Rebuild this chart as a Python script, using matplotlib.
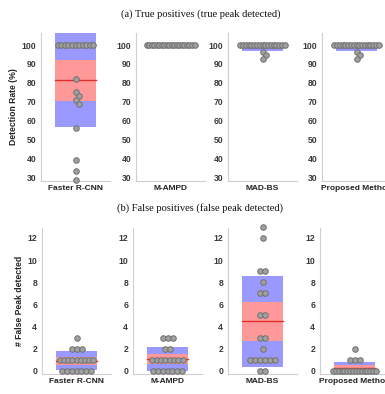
import numpy as np
import matplotlib
matplotlib.use("Agg")
import matplotlib.pyplot as plt

methods = ["Faster R-CNN", "M-AMPD", "MAD-BS", "Proposed Method"]

# Detection rate (%) per record
tp_faster = [100] * 11 + [82, 75, 73, 71, 69, 56, 39, 33, 28.5]
tp_mampd = [100] * 20
tp_madbs = [100] * 17 + [96.5, 94.5, 92.5]
tp_proposed = [100] * 17 + [96.5, 94.5, 92.5]

# False peaks detected per record
fp_faster = [0] * 7 + [1] * 9 + [2] * 3 + [3]
fp_mampd = [0] * 7 + [1] * 8 + [2] * 2 + [3] * 3
fp_madbs = [0] * 2 + [1] * 6 + [2] + [3] * 2 + [5] * 2 + [7] * 2 + [8] + [9] * 2 + [12, 13]
fp_proposed = [0] * 16 + [1] * 3 + [2]

tp_data = [tp_faster, tp_mampd, tp_madbs, tp_proposed]
fp_data = [fp_faster, fp_mampd, fp_madbs, fp_proposed]

tp_ticks = [30, 40, 50, 60, 70, 80, 90, 100]
fp_ticks = [0, 2, 4, 6, 8, 10, 12]

W_PX, H_PX, DPI = 385, 394, 100
SD_COLOR = (0.60, 0.60, 1.00)
CI_COLOR = (1.00, 0.60, 0.60)
MEAN_COLOR = (0.88, 0.18, 0.18)
SPINE = "#cfcfcf"
TICKTXT = "#3a3a3a"

fig = plt.figure(figsize=(W_PX / DPI, H_PX / DPI), dpi=DPI)
plt.rcParams["font.family"] = ["Liberation Sans", "DejaVu Sans"]


def spread_offsets(values, ax_w_px, px_per_unit, max_w=48.0, step=5.0, hit=4.5):
    """Beeswarm-like horizontal offsets (data units) for one category."""
    vals = np.asarray(values, dtype=float)
    xs = np.zeros_like(vals)
    placed = []  # (x_px, y_px)
    uniq, counts = np.unique(vals, return_counts=True)
    order = np.argsort(-counts)
    # rows of tied values first
    for i in order:
        v, k = uniq[i], counts[i]
        idx = np.where(vals == v)[0]
        if k == 1:
            continue
        width = min((k - 1) * step, max_w * np.sqrt(k / 20.0))
        offs = np.linspace(-width / 2, width / 2, k)
        for j, o in zip(idx, offs):
            xs[j] = o
            placed.append((o, v * px_per_unit))
    # single values: nearest free slot to the centre
    singles = [i for i in order if counts[i] == 1]
    for i in sorted(singles, key=lambda i: -uniq[i]):
        v = uniq[i]
        y = v * px_per_unit
        j = np.where(vals == v)[0][0]
        cand = [0.0]
        for m in range(1, 12):
            cand += [m * 1.2, -m * 1.2]
        for c in cand:
            if all(np.hypot(c - px, y - py) >= hit for px, py in placed):
                break
        xs[j] = c
        placed.append((c, y))
    return 1.0 + xs / ax_w_px


def panel(ax, values, ylim, ticks, ax_w_px, ax_h_px):
    vals = np.asarray(values, dtype=float)
    mu = vals.mean()
    sd = vals.std(ddof=1)
    ci = 1.96 * sd / np.sqrt(len(vals))
    hw = 0.297
    ax.fill_between([1 - hw, 1 + hw], mu - sd, mu + sd, color=SD_COLOR, lw=0, zorder=1)
    ax.fill_between([1 - hw, 1 + hw], mu - ci, mu + ci, color=CI_COLOR, lw=0, zorder=2)
    ax.plot([1 - hw, 1 + hw], [mu, mu], color=MEAN_COLOR, lw=1.0, zorder=3)
    px_per_unit = ax_h_px / (ylim[1] - ylim[0])
    xs = spread_offsets(vals, ax_w_px, px_per_unit)
    ax.plot(xs, vals, "o", ms=4.0, mfc="#a0a0a0", mec="#707070", mew=0.7,
            zorder=4, clip_on=False)
    ax.set_xlim(0.5, 1.5)
    ax.set_ylim(*ylim)
    ax.set_yticks(ticks)
    ax.set_xticks([])
    for s in ("top", "right"):
        ax.spines[s].set_visible(False)
    for s in ("left", "bottom"):
        ax.spines[s].set_color(SPINE)
        ax.spines[s].set_linewidth(0.8)
    ax.tick_params(axis="y", length=0, pad=3.5, labelsize=6.2, labelcolor=TICKTXT)
    for t in ax.get_yticklabels():
        t.set_fontweight("bold")


AX_W = 69
rows = [
    dict(data=tp_data, lefts=[41, 136, 228, 322], top=33, bottom=181,
         ylim=(27.9, 106.4), ticks=tp_ticks, ylabel="Detection Rate (%)"),
    dict(data=fp_data, lefts=[42, 133, 228, 320], top=228, bottom=374,
         ylim=(-0.3, 12.9), ticks=fp_ticks, ylabel="# False Peak detected"),
]

for row in rows:
    h = row["bottom"] - row["top"]
    for i, (vals, left) in enumerate(zip(row["data"], row["lefts"])):
        ax = fig.add_axes([left / W_PX, 1 - row["bottom"] / H_PX, AX_W / W_PX, h / H_PX])
        panel(ax, vals, row["ylim"], row["ticks"], AX_W, h)
        ax.set_xlabel(methods[i], fontsize=6.0, fontweight="bold", color="#222222",
                      labelpad=3)
        if i == 0:
            ax.set_ylabel(row["ylabel"], fontsize=6.2, fontweight="bold",
                          color="#222222", labelpad=2.5)

fig.text(201 / W_PX, 1 - 14 / H_PX, "(a) True positives (true peak detected)",
         ha="center", va="center", fontsize=7.6, family="Liberation Serif", color="#111111")
fig.text(200 / W_PX, 1 - 208 / H_PX, "(b) False positives (false peak detected)",
         ha="center", va="center", fontsize=7.6, family="Liberation Serif", color="#111111")

fig.savefig("out.png", dpi=DPI)
